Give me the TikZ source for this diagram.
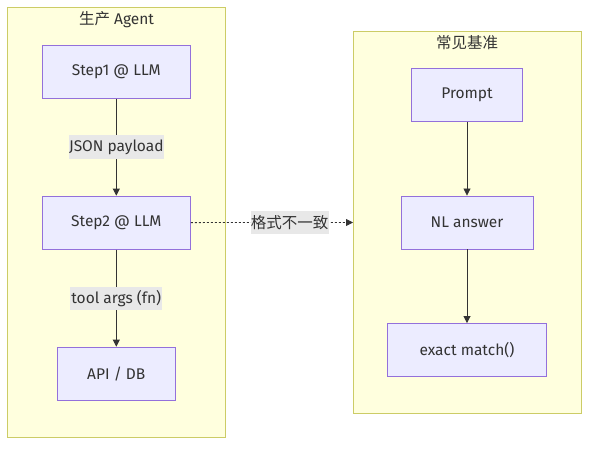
\documentclass[tikz,border=0pt]{standalone}
\usepackage{fontspec}
\setmainfont{Fira Sans}
\newfontfamily\cjk{Noto Sans CJK SC}
\usetikzlibrary{arrows.meta}
\definecolor{clfill}{HTML}{FFFFDE}
\definecolor{cldraw}{HTML}{CCCC66}
\definecolor{nfill}{HTML}{ECECFF}
\definecolor{ndraw}{HTML}{9370DB}
\definecolor{txt}{HTML}{333333}
\definecolor{lbl}{HTML}{E8E8E8}
\definecolor{edge}{HTML}{333333}
\tikzset{
  cluster/.style={draw=cldraw, fill=clfill, line width=0.9pt},
  box/.style={draw=ndraw, fill=nfill, line width=0.9pt, text=txt, font=\fontsize{15.5}{18}\selectfont},
  elabel/.style={fill=lbl, text=txt, inner sep=0pt, font=\fontsize{15.5}{18}\selectfont},
  ctitle/.style={text=txt, font=\fontsize{15.5}{18}\selectfont},
  flow/.style={draw=edge, line width=0.8pt, -{Triangle[length=7pt,width=7pt]}},
  dotflow/.style={draw=edge, line width=0.8pt, dash pattern=on 2pt off 2pt, -{Triangle[length=7pt,width=7pt]}},
}
\begin{document}
\begin{tikzpicture}[x=1pt,y=-1pt]
\useasboundingbox (0,0) rectangle (597,451);
% clusters
\path[cluster] (7.5,7.5) rectangle (225,437);
\path[cluster] (353,31.5) rectangle (581,413.5);
\node[ctitle] (t1) at (116.5,20) {{\cjk 生产} Agent};
\node[ctitle] (t2) at (467,43) {\cjk 常见基准};
\coordinate (rcl) at (353,222.5);
% nodes
\node[box, minimum width=148pt, minimum height=53pt] (s1) at (116.3,71.6) {Step1 @ LLM};
\node[box, minimum width=148pt, minimum height=53pt] (s2) at (116.3,222.6) {Step2 @ LLM};
\node[box, minimum width=118.5pt, minimum height=53pt] (api) at (116.3,373.6) {API / DB};
\node[box, minimum width=110.5pt, minimum height=53pt] (p) at (467,95) {Prompt};
\node[box, minimum width=132pt, minimum height=53pt] (nl) at (467,222.5) {NL answer};
\node[box, minimum width=159pt, minimum height=53pt] (em) at (467,350) {exact match()};
% edges
\draw[flow] (s1) -- (s2) node[elabel, midway, minimum width=95pt, minimum height=24pt] (l1) {JSON payload};
\draw[flow] (s2) -- (api) node[elabel, midway, minimum width=92pt, minimum height=23pt] (l2) {tool args (fn)};
\draw[flow] (p) -- (nl);
\draw[flow] (nl) -- (em);
\draw[dotflow] (s2.east) -- (rcl) node[elabel, pos=0.61, minimum width=78pt, minimum height=23pt, font=\cjk\fontsize{15.5}{18}\selectfont] (l3) {格式不一致};
\end{tikzpicture}
\end{document}
